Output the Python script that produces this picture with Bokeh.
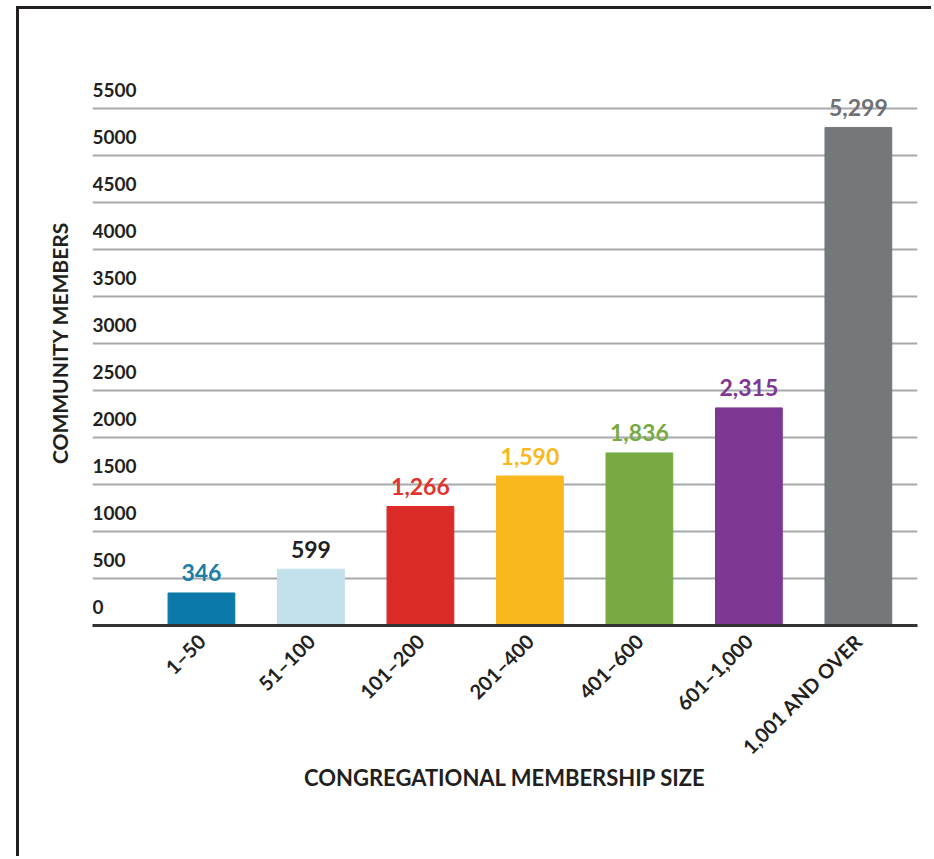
import math
from bokeh.plotting import figure
from bokeh.models import FixedTicker, ColumnDataSource, Range1d
from bokeh.core.properties import value
from bokeh.embed import file_html
from bokeh.resources import INLINE

categories = ["1–50", "51–100", "101–200", "201–400", "401–600", "601–1,000", "1,001 AND OVER"]
members = [346, 599, 1266, 1590, 1836, 2315, 5299]
value_labels = ["346", "599", "1,266", "1,590", "1,836", "2,315", "5,299"]
bar_colors = ["#0b7aa8", "#c2e1ec", "#da2b28", "#fbb81e", "#78aa43", "#7e3794", "#75787b"]
label_colors = ["#1a7ea8", "#231f20", "#e0342c", "#fbb81e", "#78aa43", "#7e3794", "#6d7074"]
y_ticks = [0, 500, 1000, 1500, 2000, 2500, 3000, 3500, 4000, 4500, 5000, 5500]
y_tick_labels = [str(t) for t in y_ticks]

FONT = "Lato"
X0, X1 = -0.995, 6.54
Y0, Y1 = 0, 6011
FRAME_H = 565
PX = (Y1 - Y0) / FRAME_H  # data units per screen pixel

p = figure(width=915, height=850, output_backend="svg", toolbar_location=None,
           x_range=Range1d(X0, X1), y_range=Range1d(Y0, Y1),
           min_border_left=73, min_border_right=17, min_border_top=51, min_border_bottom=234)
p.outline_line_color = None
p.background_fill_color = "white"
p.border_fill_color = "white"
p.styles = {"margin-left": "16px", "margin-top": "6px",
            "border-left": "3px solid #231f20", "border-top": "3px solid #231f20"}

idx = list(range(len(categories)))
src = ColumnDataSource(dict(x=idx, top=members, ly=[m + 20 * PX for m in members],
                            color=bar_colors, lab=value_labels, lcolor=label_colors))
p.vbar(x="x", top="top", width=0.61, bottom=0, color="color", source=src)

p.text(x="x", y="ly", text="lab", text_color="lcolor", source=src,
       text_align="center", text_baseline="alphabetic",
       text_font=value(FONT), text_font_size="23px", text_font_style="bold")

ysrc = ColumnDataSource(dict(x=[X0] * len(y_ticks), y=[t + 19 * PX for t in y_ticks], t=y_tick_labels))
p.text(x="x", y="y", text="t", source=ysrc, text_align="left", text_baseline="alphabetic",
       text_font=value(FONT), text_font_size="19px", text_font_style="bold",
       text_color="#231f20")

# grid
p.xgrid.grid_line_color = None
p.ygrid.ticker = FixedTicker(ticks=y_ticks[1:])
p.ygrid.grid_line_color = "#a7a9ac"
p.ygrid.grid_line_width = 2

# x axis
xa = p.xaxis[0]
xa.ticker = FixedTicker(ticks=idx)
xa.major_label_overrides = {i: c for i, c in enumerate(categories)}
xa.major_label_orientation = math.pi / 4
xa.major_label_text_font = FONT
xa.major_label_text_font_size = "20px"
xa.major_label_text_font_style = "bold"
xa.major_label_text_color = "#231f20"
xa.major_label_standoff = 6
xa.major_tick_line_color = None
xa.minor_tick_line_color = None
xa.axis_line_color = "#333333"
xa.axis_line_width = 3
xa.axis_label = "CONGREGATIONAL MEMBERSHIP SIZE"
xa.axis_label_text_font = FONT
xa.axis_label_text_font_size = "22px"
xa.axis_label_text_font_style = "bold"
xa.axis_label_text_color = "#231f20"
xa.axis_label_standoff = -6

# y axis (title only)
ya = p.yaxis[0]
ya.ticker = FixedTicker(ticks=[])
ya.axis_line_color = None
ya.major_tick_line_color = None
ya.minor_tick_line_color = None
ya.axis_label = "COMMUNITY MEMBERS"
ya.axis_label_text_font = FONT
ya.axis_label_text_font_size = "21px"
ya.axis_label_text_font_style = "bold"
ya.axis_label_text_color = "#231f20"
ya.axis_label_standoff = 21

open("out.html", "w").write(file_html(p, INLINE))
